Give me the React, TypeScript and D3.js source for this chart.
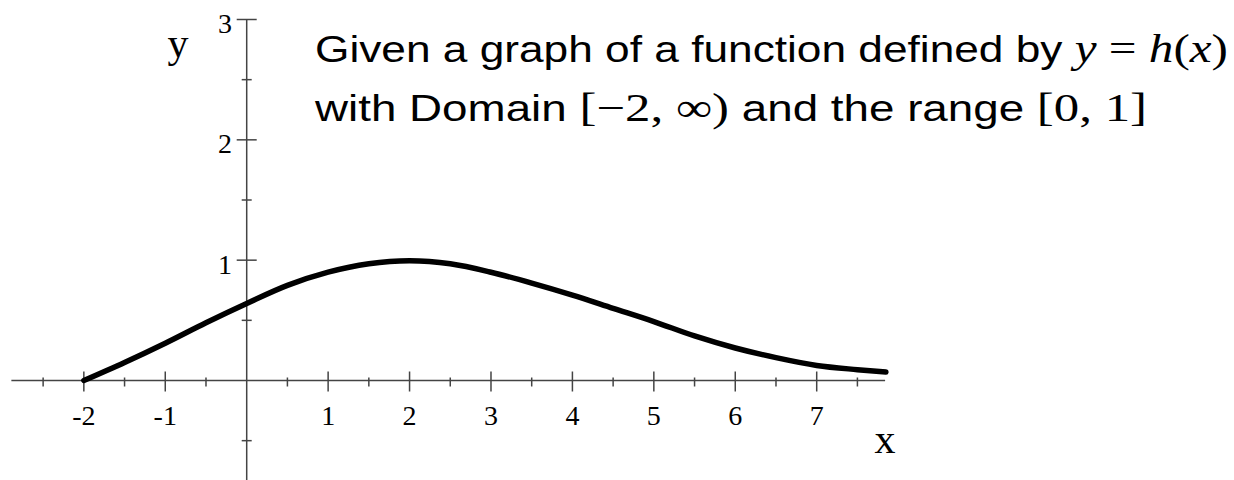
import React from "react";
import * as d3 from "d3";

const curveX = [-2, -1.5, -1, -0.5, 0, 0.5, 1, 1.5, 2, 2.5, 3, 3.5, 4, 4.5, 5, 5.5, 6, 6.5, 7, 7.5, 7.85];
const curveY = [0, 0.15, 0.31, 0.48, 0.64, 0.79, 0.9, 0.97, 0.995, 0.97, 0.9, 0.81, 0.71, 0.6, 0.49, 0.37, 0.27, 0.19, 0.125, 0.09, 0.07];

const xMajorTicks = [-2, -1, 1, 2, 3, 4, 5, 6, 7];
const xMinorTicks = [-2.5, -1.5, -0.5, 0.5, 1.5, 2.5, 3.5, 4.5, 5.5, 6.5, 7.5];
const yMajorTicks = [1, 2, 3];
const yMinorTicks = [-0.5, 0.5, 1.5, 2.5];

const W = 1234;
const H = 480;

export default function App() {
  const x = d3.scaleLinear().domain([0, 7]).range([246.7, 816.7]);
  const y = d3.scaleLinear().domain([0, 3]).range([380.5, 19.5]);
  const x0 = x(0);
  const y0 = y(0);
  const axisColor = "#444";
  const pts: [number, number][] = curveX.map((v, i) => [v, curveY[i]]);
  const line = d3
    .line<[number, number]>()
    .x((d) => x(d[0]))
    .y((d) => y(d[1]))
    .curve(d3.curveMonotoneX);
  const serif = "'Liberation Serif', 'Times New Roman', serif";
  const sans = "'Liberation Sans', Arial, sans-serif";
  return (
    <svg
      width={W}
      height={H}
      style={{ position: "absolute", left: 0, top: 0, background: "#fff" }}
    >
      <line x1={x(-2.89)} x2={x(7.84)} y1={y0} y2={y0} stroke={axisColor} strokeWidth={1.5} />
      <line x1={x0} x2={x0} y1={y(3)} y2={H} stroke={axisColor} strokeWidth={1.5} />
      {xMajorTicks.map((t) => (
        <g key={"xM" + t}>
          <line x1={x(t)} x2={x(t)} y1={y0 - 9} y2={y0 + 11} stroke={axisColor} strokeWidth={1.5} />
          <text x={x(t)} y={425} textAnchor="middle" fontFamily={serif} fontSize={28} fill="#000">
            {String(t)}
          </text>
        </g>
      ))}
      {xMinorTicks.map((t) => (
        <line key={"xm" + t} x1={x(t)} x2={x(t)} y1={y0 - 3} y2={y0 + 6} stroke={axisColor} strokeWidth={1.5} />
      ))}
      {yMajorTicks.map((t) => (
        <g key={"yM" + t}>
          <line x1={x0 - 10} x2={x0 + 10} y1={y(t)} y2={y(t)} stroke={axisColor} strokeWidth={1.5} />
          <text x={232} y={y(t) + 13.5} textAnchor="end" fontFamily={serif} fontSize={28} fill="#000">
            {String(t)}
          </text>
        </g>
      ))}
      {yMinorTicks.map((t) => (
        <line key={"ym" + t} x1={x0 - 5} x2={x0 + 5} y1={y(t)} y2={y(t)} stroke={axisColor} strokeWidth={1.5} />
      ))}
      <text x={178} y={57} textAnchor="middle" fontFamily={serif} fontSize={42} fill="#000">y</text>
      <text x={885} y={453} textAnchor="middle" fontFamily={serif} fontSize={42} fill="#000">x</text>
      <path d={line(pts) || ""} fill="none" stroke="#000" strokeWidth={5.5} strokeLinecap="round" strokeLinejoin="round" />
      <text x={315} y={62} fontFamily={sans} fontSize={36} fill="#000" textLength={913} lengthAdjust="spacingAndGlyphs">
        Given a graph of a function defined by{" "}
        <tspan fontFamily={serif} fontStyle="italic" fontSize={40}>y</tspan>
        <tspan fontFamily={serif} fontSize={40}> = </tspan>
        <tspan fontFamily={serif} fontStyle="italic" fontSize={40}>h</tspan>
        <tspan fontFamily={serif} fontSize={40}>(</tspan>
        <tspan fontFamily={serif} fontStyle="italic" fontSize={40}>x</tspan>
        <tspan fontFamily={serif} fontSize={40}>)</tspan>
      </text>
      <text x={315} y={121} fontFamily={sans} fontSize={36} fill="#000" textLength={832} lengthAdjust="spacingAndGlyphs">
        with Domain{" "}
        <tspan fontFamily={serif} fontSize={40}>[−2, ∞)</tspan>
        <tspan> and the range </tspan>
        <tspan fontFamily={serif} fontSize={40}>[0, 1]</tspan>
      </text>
    </svg>
  );
}
